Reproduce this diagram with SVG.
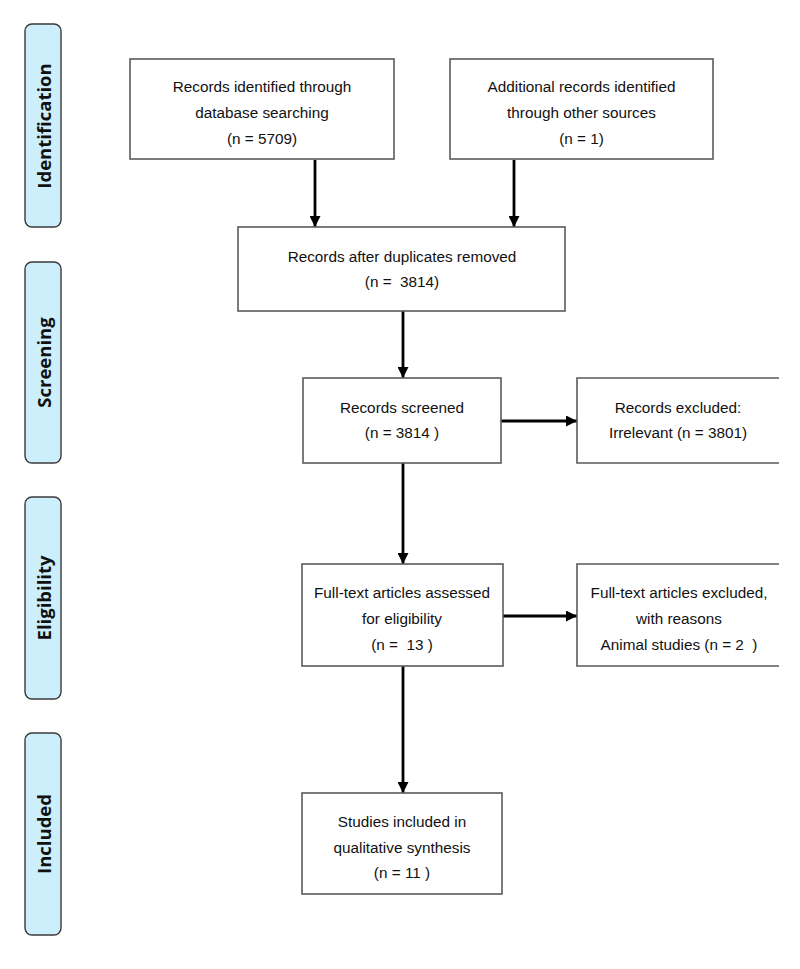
<svg xmlns="http://www.w3.org/2000/svg" width="800" height="969" viewBox="0 0 800 969">
<defs>
<style>
.box{fill:#fff;stroke:#5a5a5a;stroke-width:1.6}
.open{fill:none;stroke:#5a5a5a;stroke-width:1.6}
.side{fill:#cdeefb;stroke:#3a3a3a;stroke-width:1.4}
.t{font-family:"Liberation Sans",Arial,sans-serif;font-size:15.3px;fill:#111;text-anchor:middle;white-space:pre}
.s{font-family:"Open Sans","DejaVu Sans",sans-serif;font-size:18.5px;font-weight:bold;fill:#111;text-anchor:middle}
.c{stroke:#000;stroke-width:2.8;fill:none;marker-end:url(#ah)}
</style>
<marker id="ah" viewBox="0 0 10 10" refX="10" refY="5" markerUnits="userSpaceOnUse" markerWidth="11" markerHeight="11" orient="auto">
<path d="M0,0 L10,5 L0,10 z" fill="#000"/>
</marker>
</defs>
<rect width="800" height="969" fill="#fff"/>

<g id="phase-identification">
<rect class="side" x="25" y="24" width="36" height="203" rx="7"/>
<text class="s" transform="translate(51,126) rotate(-90)">Identification</text>
</g>
<g id="phase-screening">
<rect class="side" x="25" y="262" width="36" height="201" rx="7"/>
<text class="s" transform="translate(51,362.5) rotate(-90)">Screening</text>
</g>
<g id="phase-eligibility">
<rect class="side" x="25" y="497" width="36" height="202" rx="7"/>
<text class="s" transform="translate(51,598) rotate(-90)">Eligibility</text>
</g>
<g id="phase-included">
<rect class="side" x="25" y="733" width="36" height="202" rx="7"/>
<text class="s" transform="translate(51,834) rotate(-90)">Included</text>
</g>

<g id="connectors">
<line class="c" x1="315" y1="160" x2="315" y2="227"/>
<line class="c" x1="514" y1="160" x2="514" y2="227"/>
<line class="c" x1="403" y1="311" x2="403" y2="378"/>
<line class="c" x1="501" y1="421" x2="577" y2="421"/>
<line class="c" x1="403" y1="463" x2="403" y2="564"/>
<line class="c" x1="503" y1="616" x2="577" y2="616"/>
<line class="c" x1="403" y1="666" x2="403" y2="793"/>
</g>

<g id="n-database">
<rect class="box" x="130" y="59" width="264" height="100"/>
<text class="t" x="262" y="92">Records identified through</text>
<text class="t" x="262" y="118">database searching</text>
<text class="t" x="262" y="144">(n = 5709)</text>
</g>
<g id="n-other">
<rect class="box" x="450" y="59" width="263" height="100"/>
<text class="t" x="581.5" y="92">Additional records identified</text>
<text class="t" x="581.5" y="118">through other sources</text>
<text class="t" x="581.5" y="144">(n = 1)</text>
</g>
<g id="n-duplicates">
<rect class="box" x="238" y="227" width="327" height="84"/>
<text class="t" x="402" y="262">Records after duplicates removed</text>
<text class="t" x="402" y="287" xml:space="preserve">(n =  3814)</text>
</g>
<g id="n-screened">
<rect class="box" x="303" y="378" width="198" height="85"/>
<text class="t" x="402" y="413">Records screened</text>
<text class="t" x="402" y="438">(n = 3814 )</text>
</g>
<g id="n-excluded">
<path class="open" d="M779,378 H577 V463 H779"/>
<text class="t" x="678" y="413">Records excluded:</text>
<text class="t" x="678" y="438">Irrelevant (n = 3801)</text>
</g>
<g id="n-fulltext">
<rect class="box" x="302" y="564" width="201" height="102"/>
<text class="t" x="402" y="598">Full-text articles assessed</text>
<text class="t" x="402" y="624">for eligibility</text>
<text class="t" x="402" y="650" xml:space="preserve">(n =  13 )</text>
</g>
<g id="n-fulltext-excluded">
<path class="open" d="M779,564 H577 V666 H779"/>
<text class="t" x="679" y="598">Full-text articles excluded,</text>
<text class="t" x="679" y="624">with reasons</text>
<text class="t" x="679" y="650" xml:space="preserve">Animal studies (n = 2  )</text>
</g>
<g id="n-included">
<rect class="box" x="302" y="793" width="200" height="101"/>
<text class="t" x="402" y="827">Studies included in</text>
<text class="t" x="402" y="853">qualitative synthesis</text>
<text class="t" x="402" y="878">(n = 11 )</text>
</g>
</svg>
